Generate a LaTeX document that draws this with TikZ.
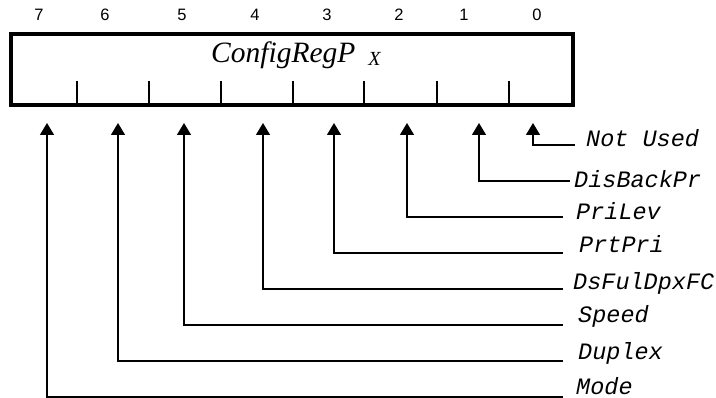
\documentclass[tikz,border=0pt]{standalone}
\usepackage{fontspec}
\setmainfont{Liberation Serif}
\setsansfont{Liberation Sans}
\setmonofont{Liberation Mono}
\usetikzlibrary{arrows.meta}
\tikzset{
  regbox/.style={draw, line width=4pt, inner sep=0pt, minimum width=562.5pt, minimum height=71pt},
  bittick/.style={line width=1.5pt},
  bitnum/.style={font=\sffamily\fontsize{16.5}{18}\selectfont, anchor=base, inner sep=0pt},
  fieldlbl/.style={font=\ttfamily\itshape\fontsize{23.5}{26}\selectfont, anchor=base west, inner sep=0pt},
  conn/.style={line width=1.5pt, -{Triangle[width=14pt,length=12pt]}},
  titletxt/.style={anchor=base west, inner sep=0pt}
}
\begin{document}
\begin{tikzpicture}[x=1pt,y=-1pt]
\useasboundingbox (0,0) rectangle (716,398);
% register box
\node[regbox] (reg) at (291.75,69.5) {};
\node[titletxt] (title) at (211,63) {\itshape\fontsize{29.5}{32}\selectfont ConfigRegP\hspace{13pt}\raisebox{-3pt}{\fontsize{20}{22}\selectfont X}};
% bit ticks
\foreach \x in {77,149,221,293,364,437,509}
  \draw[bittick] (\x,81) -- (\x,105);
% bit numbers
\node[bitnum] (b7) at (39,20.5) {7};
\node[bitnum] (b6) at (105,20.5) {6};
\node[bitnum] (b5) at (182,20.5) {5};
\node[bitnum] (b4) at (255,20.5) {4};
\node[bitnum] (b3) at (327,20.5) {3};
\node[bitnum] (b2) at (399,20.5) {2};
\node[bitnum] (b1) at (464,20.5) {1};
\node[bitnum] (b0) at (537,20.5) {0};
% arrow tips
\coordinate (t0) at (533,123);
\coordinate (t1) at (479,123);
\coordinate (t2) at (407,123);
\coordinate (t3) at (334,123);
\coordinate (t4) at (263,123);
\coordinate (t5) at (184,123);
\coordinate (t6) at (118,123);
\coordinate (t7) at (47,123);
% line ends
\coordinate (e0) at (575,145);
\coordinate (e1) at (570,181);
\coordinate (e2) at (563,217);
\coordinate (e3) at (563,253);
\coordinate (e4) at (563,289);
\coordinate (e5) at (563,325);
\coordinate (e6) at (563,361);
\coordinate (e7) at (563,397);
% labels
\node[fieldlbl] (l0) at (586,147) {Not Used};
\node[fieldlbl] (l1) at (574,188) {DisBackPr};
\node[fieldlbl] (l2) at (576,220) {PriLev};
\node[fieldlbl] (l3) at (579,253) {PrtPri};
\node[fieldlbl] (l4) at (573,290) {DsFulDpxFC};
\node[fieldlbl] (l5) at (578,323) {Speed};
\node[fieldlbl] (l6) at (578,360) {Duplex};
\node[fieldlbl, text depth=0pt] (l7) at (576,395) {Mode};
% connectors
\foreach \i in {0,...,7}
  \draw[conn] (e\i) -| (t\i);
\end{tikzpicture}
\end{document}
